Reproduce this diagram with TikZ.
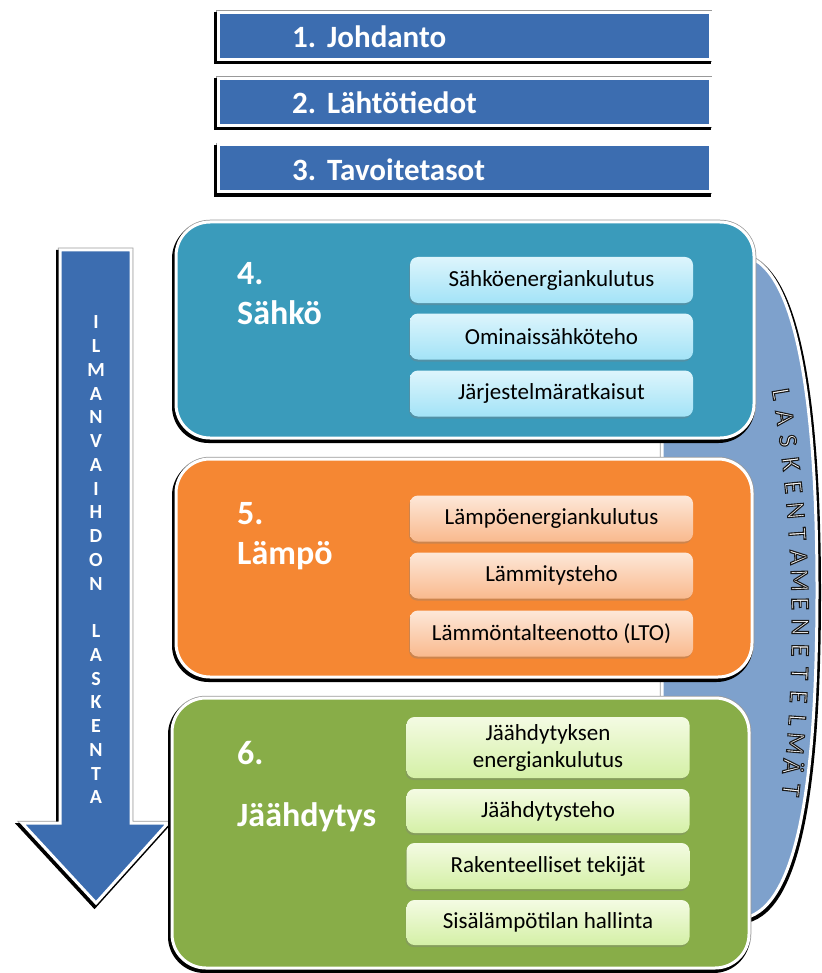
\documentclass[tikz,border=0pt]{standalone}
\usepackage{fontspec}
\setmainfont{Carlito}
\usetikzlibrary{shadows}
\definecolor{boxblue}{HTML}{3C6DB0}
\definecolor{tealc}{HTML}{3A9BBB}
\definecolor{orangec}{HTML}{F58733}
\definecolor{greenc}{HTML}{88AD48}
\definecolor{backc}{HTML}{7EA1CC}
\definecolor{tealtop}{HTML}{DDF5FC}
\definecolor{tealbot}{HTML}{A3E3F7}
\definecolor{orantop}{HTML}{FDE7D8}
\definecolor{oranbot}{HTML}{F9BA8E}
\definecolor{greentop}{HTML}{F4FBE3}
\definecolor{greenbot}{HTML}{D4F0A6}
\newcommand{\outlinetext}{\special{pdf:literal direct 2 Tr 1.1 w 0.1 0.1 0.1 RG}}
\tikzset{
  frame/.style={draw=white, line width=3pt,
    preaction={draw=black!40, line width=4.5pt},
    preaction={draw=black, line width=5pt, transform canvas={xshift=-1.5pt,yshift=-2.5pt}}},
  rframe/.style={draw=white, line width=3pt,
    preaction={draw=black!40, line width=4.5pt},
    preaction={draw=black, line width=5pt, transform canvas={xshift=1.5pt,yshift=-2.5pt}}},
  topbox/.style={frame, fill=boxblue, rectangle, minimum width=492pt, minimum height=47pt, inner sep=0pt},
  toptext/.style={anchor=base west, text=white, font=\bfseries\fontsize{31}{36}\selectfont, inner sep=0pt},
  secbox/.style={frame, rectangle, rounded corners=34pt, inner sep=0pt},
  head/.style={anchor=base west, text=white, font=\bfseries\fontsize{34}{38}\selectfont, inner sep=0pt},
  subbox/.style={rectangle, rounded corners=8pt, minimum width=283pt, inner sep=0pt, align=center,
    font=\fontsize{23}{27}\selectfont,
    drop shadow={shadow xshift=-1pt, shadow yshift=-2pt, opacity=0.35}},
  tsub/.style={subbox, top color=tealtop, bottom color=tealbot},
  osub/.style={subbox, top color=orantop, bottom color=oranbot},
  gsub/.style={subbox, top color=greentop, bottom color=greenbot},
  curveletter/.style={text=white, inner sep=0pt, font=\fontsize{26}{26}\selectfont, sloped, allow upside down},
}
\begin{document}
\begin{tikzpicture}[x=1pt,y=-1pt]
\useasboundingbox (0,0) rectangle (821,973);

% top boxes
\node[topbox] (b1) at (464,36) {};
\node[topbox] (b2) at (464,102) {};
\node[topbox] (b3) at (464,168.5) {};
\node[toptext] (t1) at (292,48) {1.\hspace{11pt}Johdanto};
\node[toptext] (t2) at (292,114) {2.\hspace{11pt}Lähtötiedot};
\node[toptext] (t3) at (292,180.5) {3.\hspace{11pt}Tavoitetasot};

% backdrop
\path[rframe, fill=backc] (662,256) -- (745,256) .. controls (800,268) and (817,420) .. (817,590)
   .. controls (817,770) and (800,905) .. (745,918) -- (662,918) -- cycle;
\foreach \ch [count=\i] in {L,A,S,K,E,N,T,A,M,E,N,E,T,E,L,M,Ä,T} {
  \pgfmathsetmacro\pp{(\i-1)/17}
  \path (781,394) .. controls (803,526) and (806,658) .. (791,790)
     node[curveletter, pos=\pp] (m\i) {\outlinetext\ch};
}

% arrow
\path[frame, fill=boxblue, line join=miter] (60,250) -- (131,250) -- (131,823) -- (168,823) -- (96,903)
   -- (22,823) -- (60,823) -- cycle;
\node[text=white, align=center, inner sep=0pt, font=\bfseries\fontsize{20}{23.75}\selectfont] (arrowtext)
   at (96,560) {I\\L\\M\\A\\N\\V\\A\\I\\H\\D\\O\\N\\~\\L\\A\\S\\K\\E\\N\\T\\A};

% section 4
\node[secbox, fill=tealc, minimum width=578pt, minimum height=216pt] (s4) at (465,330) {};
\node[head] (h4a) at (237,284) {4.};
\node[head] (h4b) at (237,324) {Sähkö};
\node[tsub, minimum height=46pt] (a1) at (551.5,280) {Sähköenergiankulutus};
\node[tsub, minimum height=46pt] (a2) at (551.5,336.5) {Ominaissähköteho};
\node[tsub, minimum height=46pt] (a3) at (551.5,393.5) {Järjestelmäratkaisut};

% section 5
\node[secbox, fill=orangec, minimum width=576pt, minimum height=218pt] (s5) at (464,568) {};
\node[head] (h5a) at (237,524) {5.};
\node[head] (h5b) at (237,564) {Lämpö};
\node[osub, minimum height=46pt] (c1) at (551.5,518.5) {Lämpöenergiankulutus};
\node[osub, minimum height=46pt] (c2) at (551.5,575.5) {Lämmitysteho};
\node[osub, minimum height=46pt] (c3) at (551.5,633.5) {Lämmöntalteenotto (LTO)};

% section 6
\node[secbox, fill=greenc, minimum width=577pt, minimum height=270pt] (s6) at (460.5,833) {};
\node[head] (h6a) at (237,764) {6.};
\node[head] (h6b) at (237,826) {Jäähdytys};
\node[gsub, minimum height=61pt] (d1) at (548,747.5) {Jäähdytyksen\\energiankulutus};
\node[gsub, minimum height=44pt] (d2) at (548,811) {Jäähdytysteho};
\node[gsub, minimum height=46pt] (d3) at (548,866) {Rakenteelliset tekijät};
\node[gsub, minimum height=45pt] (d4) at (548,922.5) {Sisälämpötilan hallinta};
\end{tikzpicture}
\end{document}
